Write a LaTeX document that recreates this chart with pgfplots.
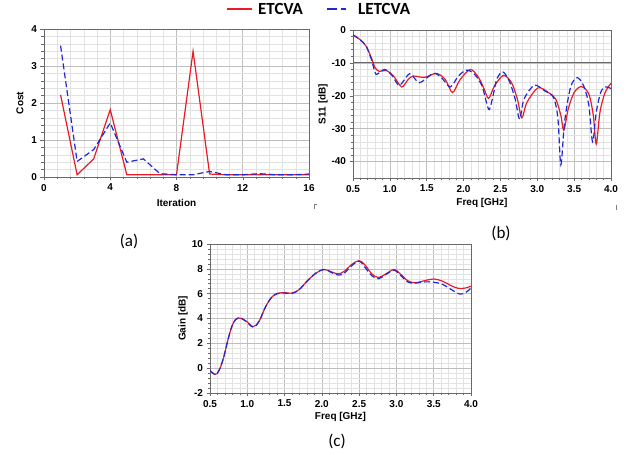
\documentclass[border=0pt]{standalone}
\usepackage{pgfplots}
\pgfplotsset{compat=1.18}
\usepackage{fontspec}
\setmainfont{Carlito}
\newfontfamily\arialf{Liberation Sans}
\definecolor{cred}{RGB}{232,28,38}
\definecolor{cblue}{RGB}{30,40,215}
\definecolor{majgrid}{RGB}{190,190,190}
\definecolor{mingrid}{RGB}{226,226,226}
\definecolor{framec}{RGB}{105,105,105}
\pgfplotsset{hfss/.style={
  scale only axis, anchor=south west,
  axis line style={framec, line width=0.9pt},
  grid=both,
  major grid style={majgrid, line width=0.6pt},
  minor grid style={mingrid, line width=0.5pt},
  tick style={framec, line width=0.5pt},
  tick align=outside, tick pos=left,
  major tick length=3.5pt, minor tick length=2.5pt,
  tick label style={font=\arialf\bfseries\fontsize{10}{12}\selectfont, text=black},
  label style={font=\arialf\bfseries\fontsize{10}{12}\selectfont},
  /pgf/number format/assume math mode=true,
  xlabel style={at={(axis description cs:0.5,0)}, anchor=center},
  ylabel style={at={(axis description cs:0,0.5)}, anchor=center},
}}
\tikzset{redl/.style={cred, line width=1.2pt, solid},
  bluel/.style={cblue, line width=1.2pt, dash pattern=on 6pt off 3pt}}
\begin{document}
\begin{tikzpicture}[x=1pt,y=1pt]
\path[use as bounding box] (0,0) rectangle (630,455);
% ---------- (a)
\begin{axis}[hfss, at={(44pt,278pt)}, width=265pt, height=148pt,
  xmin=0, xmax=16, ymin=0, ymax=4,
  xtick={0,4,8,12,16}, minor x tick num=4,
  ytick={0,1,2,3,4}, minor y tick num=4,
  xlabel={Iteration}, ylabel={Cost},
  xlabel style={yshift=-26pt}, ylabel style={yshift=24pt}]
\addplot[redl] coordinates {(1,2.22)(2,0.06)(3,0.49)(4,1.82)(5,0.06)(6,0.06)(7,0.06)(8,0.06)(9,3.4)(10,0.08)(11,0.06)(12,0.06)(13,0.06)(14,0.06)(15,0.06)(16,0.06)};
\addplot[bluel] coordinates {(1,3.55)(2,0.42)(3,0.74)(4,1.46)(5,0.4)(6,0.49)(7,0.09)(8,0.06)(9,0.06)(10,0.15)(11,0.06)(12,0.06)(13,0.09)(14,0.06)(15,0.06)(16,0.08)};
\end{axis}
% ---------- (b)
\begin{axis}[hfss, at={(353pt,277pt)}, width=258pt, height=148pt,
  xmin=0.5, xmax=4, ymin=-45, ymax=0,
  xtick={0.5,1,1.5,2,2.5,3,3.5,4}, minor x tick num=4,
  ytick={-40,-30,-20,-10,0}, minor y tick num=4,
  xticklabel style={/pgf/number format/.cd, fixed, fixed zerofill, precision=1},
  xlabel={Freq [GHz]}, ylabel={S11 [dB]},
  xlabel style={yshift=-25pt}, ylabel style={yshift=30pt}]
\addplot[framec, line width=1.2pt, forget plot] coordinates {(0.5,-10)(4,-10)};
\addplot[redl, smooth, tension=0.5] coordinates {
(0.50,-1.5)(0.60,-3.0)(0.68,-5.0)(0.75,-8.5)(0.80,-11.5)(0.86,-12.6)(0.95,-12.3)(1.05,-14.0)(1.16,-17.3)(1.25,-15.0)(1.32,-14.0)(1.47,-14.4)(1.63,-13.2)(1.75,-15.0)(1.85,-19.0)(1.95,-15.2)(2.09,-12.0)(2.20,-14.3)(2.28,-18)(2.34,-20.8)(2.42,-17)(2.54,-13.8)(2.65,-16)(2.73,-21)(2.79,-26.7)(2.86,-22)(3.01,-17.6)(3.15,-19.0)(3.25,-21)(3.32,-26)(3.36,-30.5)(3.42,-24)(3.50,-19)(3.60,-17.2)(3.70,-19.5)(3.76,-26)(3.80,-34.7)(3.85,-25)(3.92,-19)(4.00,-16.2)};
\addplot[bluel, smooth, tension=0.5] coordinates {
(0.50,-1.5)(0.60,-3.0)(0.68,-5.0)(0.75,-9)(0.80,-13)(0.83,-13.4)(0.93,-12.0)(1.03,-13.8)(1.13,-16.8)(1.27,-13.3)(1.40,-16.0)(1.59,-13.2)(1.70,-14.5)(1.82,-17.3)(1.93,-14.0)(2.04,-12.2)(2.15,-13.5)(2.25,-17)(2.31,-22)(2.35,-24.2)(2.40,-20)(2.45,-15)(2.53,-12.7)(2.62,-15.5)(2.70,-21)(2.76,-27.1)(2.82,-21)(2.96,-16.8)(3.10,-18.5)(3.22,-20.5)(3.28,-27)(3.32,-41)(3.37,-28)(3.45,-17.5)(3.54,-14.5)(3.63,-17)(3.70,-23)(3.75,-34)(3.80,-25)(3.86,-19)(3.92,-17.3)(4.00,-17.8)};
\end{axis}
% ---------- (c)
\begin{axis}[hfss, at={(210pt,62pt)}, width=261pt, height=149pt,
  xmin=0.5, xmax=4, ymin=-2, ymax=10,
  xtick={0.5,1,1.5,2,2.5,3,3.5,4}, minor x tick num=4,
  ytick={-2,0,2,4,6,8,10}, minor y tick num=4,
  xticklabel style={/pgf/number format/.cd, fixed, fixed zerofill, precision=1},
  xlabel={Freq [GHz]}, ylabel={Gain [dB]},
  xlabel style={yshift=-24pt}, ylabel style={yshift=27pt}]
\addplot[redl, smooth, tension=0.6] coordinates {
(0.50,-0.2)(0.57,-0.5)(0.62,-0.2)(0.68,0.8)(0.75,2.5)(0.81,3.6)(0.88,4.05)(0.98,3.8)(1.08,3.35)(1.16,3.8)(1.25,5.0)(1.35,5.85)(1.46,6.08)(1.60,6.05)(1.70,6.35)(1.80,7.0)(1.92,7.65)(2.03,7.95)(2.13,7.75)(2.22,7.6)(2.30,7.8)(2.40,8.35)(2.50,8.65)(2.58,8.3)(2.67,7.6)(2.76,7.3)(2.86,7.6)(2.97,7.95)(3.05,7.6)(3.15,7.05)(3.25,6.88)(3.38,7.05)(3.50,7.18)(3.62,7.0)(3.73,6.65)(3.83,6.43)(3.92,6.45)(4.00,6.6)};
\addplot[bluel, smooth, tension=0.6] coordinates {
(0.50,-0.2)(0.57,-0.5)(0.62,-0.2)(0.68,0.8)(0.75,2.5)(0.81,3.6)(0.88,4.05)(0.98,3.8)(1.08,3.3)(1.16,3.8)(1.25,5.0)(1.35,5.85)(1.46,6.05)(1.60,6.02)(1.70,6.35)(1.80,7.0)(1.92,7.65)(2.03,7.95)(2.13,7.7)(2.22,7.5)(2.30,7.65)(2.40,8.25)(2.50,8.62)(2.58,8.1)(2.67,7.45)(2.76,7.2)(2.86,7.55)(2.97,7.9)(3.05,7.5)(3.15,6.95)(3.25,6.85)(3.38,6.95)(3.50,6.92)(3.62,6.75)(3.73,6.35)(3.85,5.97)(3.93,6.1)(4.00,6.45)};
\end{axis}
% ---------- legend
\draw[cred, line width=2.6pt] (227,446) -- (252,446);
\node[anchor=west, font=\bfseries\fontsize{17}{20}\selectfont, inner sep=0pt] at (258,446) {ETCVA};
\draw[cblue, line width=2.6pt, dash pattern=on 10pt off 4pt] (327,446) -- (346,446);
\node[anchor=west, font=\bfseries\fontsize{17}{20}\selectfont, inner sep=0pt] at (358,446) {LETCVA};
% ---------- panel labels
\node[font=\fontsize{17}{20}\selectfont] at (129,214) {(a)};
\node[font=\fontsize{17}{20}\selectfont] at (501,222) {(b)};
\node[font=\fontsize{17}{20}\selectfont] at (337,14) {(c)};
% small corner marks
\draw[gray, line width=0.6pt] (314,246) -- (314,251) -- (317,251);
\draw[gray, line width=0.6pt] (616,245) -- (616,250);
\end{tikzpicture}
\end{document}
